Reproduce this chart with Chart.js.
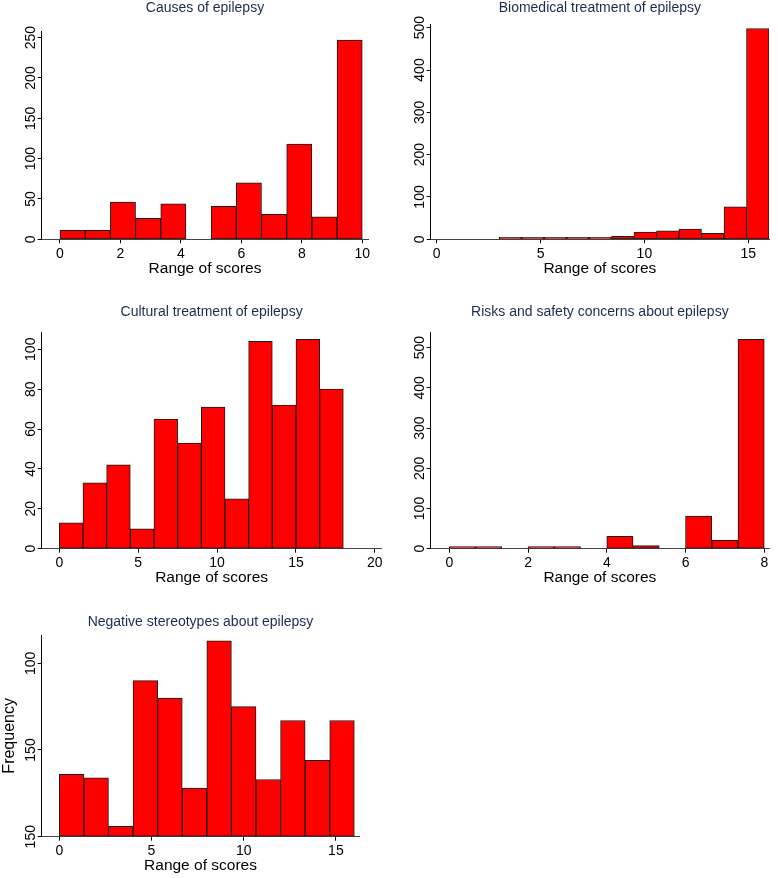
<!DOCTYPE html>
<html><head><meta charset="utf-8">
<script src="https://cdn.jsdelivr.net/npm/chart.js@4.4.1/dist/chart.umd.min.js"></script>
<style>
html,body{margin:0;padding:0;background:#fff;}
#wrap{position:relative;width:778px;height:878px;overflow:hidden;background:#fff;}
canvas{position:absolute;}
</style></head><body><div id="wrap"></div>
<script>
// ---------------- data ----------------
const xAxisTitle = 'Range of scores';
const yAxisTitle = 'Frequency';

const causesTitle = 'Causes of epilepsy';
const causesRange = [0, 10];
const causesCounts = [11, 11, 46, 26, 44, 0, 41, 70, 31, 118, 28, 247];
const causesXTicks = [0, 2, 4, 6, 8, 10];
const causesYTicks = [0, 50, 100, 150, 200, 250];

const biomedTitle = 'Biomedical treatment of epilepsy';
const biomedRange = [3, 16];
const biomedCounts = [3, 2, 2, 1, 3, 7, 17, 20, 24, 14, 77, 498];
const biomedXTicks = [0, 5, 10, 15];
const biomedYTicks = [0, 100, 200, 300, 400, 500];

const culturalTitle = 'Cultural treatment of epilepsy';
const culturalRange = [0, 18];
const culturalCounts = [13, 33, 42, 10, 65, 53, 71, 25, 104, 72, 105, 80];
const culturalXTicks = [0, 5, 10, 15, 20];
const culturalYTicks = [0, 20, 40, 60, 80, 100];

const risksTitle = 'Risks and safety concerns about epilepsy';
const risksRange = [0, 8];
const risksCounts = [3, 1, 0, 2, 2, 0, 31, 8, 0, 81, 21, 521];
const risksXTicks = [0, 2, 4, 6, 8];
const risksYTicks = [0, 100, 200, 300, 400, 500];

const stereoTitle = 'Negative stereotypes about epilepsy';
const stereoRange = [0, 16];
const stereoCounts = [36, 34, 6, 90, 80, 28, 113, 75, 33, 67, 44, 67];
const stereoXTicks = [0, 5, 10, 15];
const stereoYTicks = [0, 50, 100];
const stereoYTickLabels = ['150', '150', '100'];

// ---------------- layout ----------------
const FONT = '"Liberation Sans", Arial, Helvetica, sans-serif';
const YW = 41.7, TOPB = 40, XH = 40;
const panels = [
  {title: causesTitle, range: causesRange, counts: causesCounts, xTicks: causesXTicks, yTicks: causesYTicks,
   L: 41.7, T: 31.7, R: 368.3, B: 239.3, xMin: -0.605, xMax: 10.2, yMax: 257.4, titleMid: 8.4},
  {title: biomedTitle, range: biomedRange, counts: biomedCounts, xTicks: biomedXTicks, yTicks: biomedYTicks,
   L: 430.7, T: 24.3, R: 769, B: 239.3, xMin: -0.29, xMax: 16.0, yMax: 508, titleMid: 7.8},
  {title: culturalTitle, range: culturalRange, counts: culturalCounts, xTicks: culturalXTicks, yTicks: culturalYTicks,
   L: 41.7, T: 332.7, R: 381.5, B: 548.7, xMin: -1.115, xMax: 20.42, yMax: 108.3, titleMid: 311.8},
  {title: risksTitle, range: risksRange, counts: risksCounts, xTicks: risksXTicks, yTicks: risksYTicks,
   L: 430.7, T: 332.7, R: 769, B: 548.7, xMin: -0.472, xMax: 8.12, yMax: 537.3, titleMid: 312.4},
  {title: stereoTitle, range: stereoRange, counts: stereoCounts, xTicks: stereoXTicks, yTicks: stereoYTicks,
   yTickLabels: stereoYTickLabels, showYTitle: true,
   L: 41.7, T: 635, R: 359.3, B: 836.7, xMin: -0.955, xMax: 16.27, yMax: 116.3, titleMid: 621.8}
];

const wrap = document.getElementById('wrap');

function buildPanel(p) {
  const cl = Math.floor(p.L - YW);
  const ct = Math.floor(p.T - TOPB);
  const W = Math.ceil(p.R + 20 - cl);
  const H = Math.ceil(p.B + XH + 4 - ct);
  const padL = p.L - YW - cl;
  const padR = cl + W - p.R;
  const padB = ct + H - p.B - XH;
  const topBlock = p.T - ct;
  const lh = 14 * 1.2;
  const pt = p.titleMid - ct - lh / 2;
  const pb = topBlock - lh - pt;

  const canvas = document.createElement('canvas');
  canvas.width = W; canvas.height = H;
  canvas.style.left = cl + 'px'; canvas.style.top = ct + 'px';
  canvas.style.width = W + 'px'; canvas.style.height = H + 'px';
  wrap.appendChild(canvas);

  const n = p.counts.length;
  const bw = (p.range[1] - p.range[0]) / n;
  const pts = p.counts.map((c, i) => ({x: p.range[0] + (i + 0.5) * bw, y: c})).filter(d => d.y > 0);

  new Chart(canvas, {
    type: 'bar',
    data: {datasets: [{
      data: pts,
      backgroundColor: '#ff0000',
      borderColor: '#1a1a1a',
      borderWidth: 1,
      borderSkipped: false,
      barPercentage: 1,
      categoryPercentage: 1,
      minBarLength: 2
    }]},
    options: {
      responsive: false, animation: false, devicePixelRatio: 1,
      layout: {padding: {left: padL, right: padR, top: 0, bottom: padB}},
      plugins: {
        legend: {display: false},
        tooltip: {enabled: false},
        title: {display: true, text: p.title, fullSize: false, color: '#1c2b50',
          font: {family: FONT, size: 14, weight: 'normal', lineHeight: 1.2},
          padding: {top: pt, bottom: pb}}
      },
      scales: {
        x: {
          type: 'linear', min: p.xMin, max: p.xMax, offset: false,
          afterBuildTicks: s => { s.ticks = p.xTicks.map(v => ({value: v})); },
          afterFit: s => { s.height = XH; },
          grid: {drawOnChartArea: false, drawTicks: true, tickLength: 4, color: '#000', offset: false},
          border: {display: true, color: '#444', width: 1},
          ticks: {color: '#000', font: {family: FONT, size: 14}, padding: 2, maxRotation: 0, minRotation: 0, autoSkip: false},
          title: {display: true, text: xAxisTitle, color: '#000', font: {family: FONT, size: 15.5, lineHeight: 1.2},
            padding: {top: 0, bottom: 1.4}}
        },
        y: {
          type: 'linear', min: 0, max: p.yMax,
          afterBuildTicks: s => { s.ticks = p.yTicks.map(v => ({value: v})); },
          afterFit: s => { s.width = YW; },
          grid: {drawOnChartArea: false, drawTicks: true, tickLength: 4, color: '#000'},
          border: {display: true, color: '#000', width: 1},
          ticks: {color: '#000', font: {family: FONT, size: 14}, padding: -5.3, minRotation: 90, maxRotation: 90,
            crossAlign: 'center', autoSkip: false,
            callback: (v, i) => p.yTickLabels ? p.yTickLabels[i] : String(v)},
          title: {display: !!p.showYTitle, text: yAxisTitle, color: '#000', font: {family: FONT, size: 16, lineHeight: 1.2},
            padding: {top: 0, bottom: 0}}
        }
      }
    }
  });
}

panels.forEach(buildPanel);
</script>
</body></html>
